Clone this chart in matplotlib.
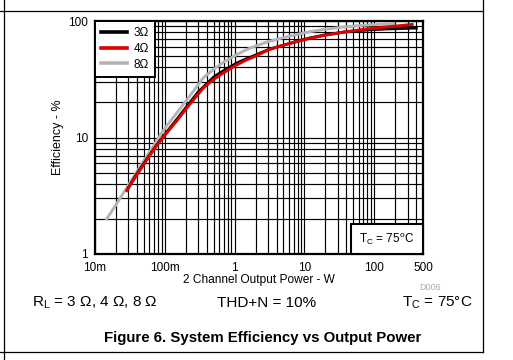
import matplotlib
matplotlib.use("Agg")
import matplotlib.pyplot as plt
from matplotlib.lines import Line2D
from matplotlib.patches import Rectangle
from matplotlib.ticker import FixedLocator, NullFormatter

plt.rcParams['font.family'] = ['Liberation Sans', 'DejaVu Sans']

# data (W, %)
p_3ohm = [0.03, 0.04, 0.055, 0.075, 0.106, 0.15, 0.2, 0.3, 0.5, 0.7, 1.07, 1.5, 2, 3.1,
          5, 8, 12, 20, 35, 63, 100, 150, 250, 400]
eff_3ohm = [3.7, 4.9, 6.5, 8.5, 11.1, 14.4, 18, 24.5, 33, 37.5, 43.5, 47.5, 51, 57,
            62, 67, 71.5, 76, 80, 83, 84.5, 85.5, 86.3, 87]

p_4ohm = [0.0285, 0.04, 0.055, 0.075, 0.106, 0.15, 0.2, 0.3, 0.356, 0.5, 0.7, 1.07, 1.5, 2,
          3.1, 5, 8, 12, 20, 35, 63, 100, 150, 250, 350]
eff_4ohm = [3.5, 4.8, 6.4, 8.4, 10.9, 14.0, 17.5, 23.5, 26.6, 31.5, 36, 42, 46.5, 50,
            56.8, 62, 67, 71, 75.5, 80, 84, 87, 89, 91.5, 93.5]

p_8ohm = [0.0147, 0.02, 0.03, 0.05, 0.075, 0.1, 0.148, 0.2, 0.356, 0.5, 0.7, 1.07, 1.5, 2,
          3.1, 5, 8, 12, 20, 35, 63, 100, 190]
eff_8ohm = [2.0, 2.65, 3.9, 6.3, 9.2, 12.0, 16.2, 20.5, 32.5, 38.5, 44.5, 51.4, 57, 61,
            66.8, 72, 77, 81, 85, 88.5, 91.5, 93, 94.5]

x_ticks = [0.01, 0.1, 1, 10, 100, 500]
x_labels = ["10m", "100m", "1", "10", "100", "500"]
y_ticks = [1, 10, 100]
y_labels = ["1", "10", "100"]

fig = plt.figure(figsize=(5.13, 3.6), dpi=100)
ax = fig.add_axes([95/513, 106/360, 328/513, 233/360])

ax.plot(p_3ohm, eff_3ohm, color='black', lw=2.1, label='3Ω', zorder=3)
ax.plot(p_4ohm, eff_4ohm, color='#e00000', lw=2.1, label='4Ω', zorder=4)
ax.plot(p_8ohm, eff_8ohm, color='#b4b4b4', lw=2.1, label='8Ω', zorder=2)

ax.set_xscale('log')
ax.set_yscale('log')
ax.set_xlim(0.01, 500)
ax.set_ylim(1, 100)

ax.xaxis.set_major_locator(FixedLocator(x_ticks))
ax.set_xticklabels(x_labels)
ax.yaxis.set_major_locator(FixedLocator(y_ticks))
ax.set_yticklabels(y_labels)
ax.xaxis.set_minor_formatter(NullFormatter())
ax.yaxis.set_minor_formatter(NullFormatter())
ax.tick_params(which='both', length=0, labelsize=8.5)
ax.tick_params(axis='x', pad=6)
ax.tick_params(axis='y', pad=5)
ax.grid(which='both', color='black', lw=0.85)
ax.set_axisbelow(True)
for s in ax.spines.values():
    s.set_linewidth(1.6)

ax.set_xlabel("2 Channel Output Power - W", fontsize=8.6, labelpad=0)
ax.set_ylabel("Efficiency - %", fontsize=9, labelpad=3)

leg = ax.legend(loc='upper left', fontsize=8.5, frameon=True, fancybox=False,
                borderaxespad=0, handlelength=2.2, handletextpad=0.5,
                labelspacing=0.3, borderpad=0.55)
leg.get_frame().set_edgecolor('black')
leg.get_frame().set_linewidth(1.4)
leg.get_frame().set_alpha(1)
for h in leg.get_lines():
    h.set_linewidth(2.6)

# Tc box in the lower right corner
ax.add_patch(Rectangle((0.78, 0), 0.22, 0.129, transform=ax.transAxes,
                       fc='white', ec='black', lw=1.5, zorder=6, clip_on=False))
ax.text(0.89, 0.064, "T$_\\mathregular{C}$ = 75$^\\mathregular{o}$C", transform=ax.transAxes,
        ha='center', va='center', fontsize=8.5, zorder=7)

fig.text(430/513, 1 - 287/360, "D006", fontsize=6.5, color='#a8a8a8', ha='center', va='center')
fig.text(32/513, 1 - 303/360, "R$_\\mathregular{L}$ = 3 Ω, 4 Ω, 8 Ω", fontsize=11, ha='left', va='center')
fig.text(217/513, 1 - 303/360, "THD+N = 10%", fontsize=11, ha='left', va='center')
fig.text(472/513, 1 - 303/360, "T$_\\mathregular{C}$ = 75°C", fontsize=11, ha='right', va='center')
fig.text(263/513, 1 - 338/360, "Figure 6. System Efficiency vs Output Power", fontsize=10.8,
         fontweight='bold', ha='center', va='center')

# page frame lines
fig.add_artist(Line2D([0, 483/513], [1 - 11/360] * 2, color='black', lw=0.9))
fig.add_artist(Line2D([0, 483/513], [1 - 352/360] * 2, color='black', lw=0.9))
fig.add_artist(Line2D([3.5/513] * 2, [0, 1], color='black', lw=0.9))
fig.add_artist(Line2D([483/513] * 2, [1 - 352/360, 1], color='black', lw=0.9))

fig.savefig("out.png", dpi=100)
